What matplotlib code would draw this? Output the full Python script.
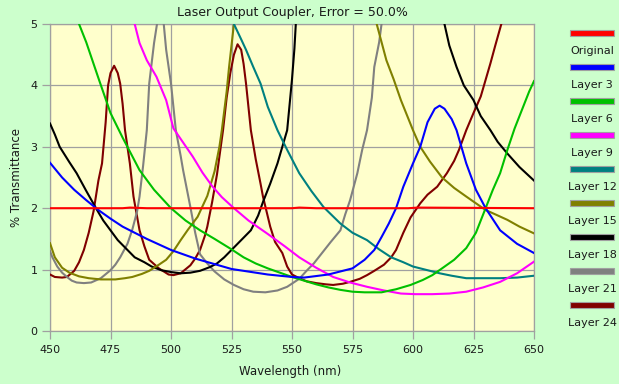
import numpy as np
import matplotlib
matplotlib.use("Agg")
import matplotlib.pyplot as plt
from matplotlib.patches import Rectangle

# wavelength (nm) / % transmittance
wl_original = [450, 480, 483, 490, 550, 553, 560, 598, 602, 650]
t_original = [2.0, 2.0, 2.01, 2.0, 2.0, 2.01, 2.0, 2.0, 2.01, 2.0]

wl_l3 = [450, 455, 460, 465, 470, 475, 480, 490, 500, 510, 525, 540, 550, 555, 565, 575,
         580, 584, 587, 590, 593, 596, 600, 603, 606, 609, 611, 613, 616, 618, 622, 626,
         630, 636, 643, 650]
t_l3 = [2.74, 2.5, 2.3, 2.13, 1.97, 1.83, 1.70, 1.50, 1.32, 1.18, 1.01, 0.92, 0.88, 0.87,
        0.92, 1.02, 1.16, 1.32, 1.53, 1.75, 2.0, 2.35, 2.73, 3.0, 3.4, 3.62, 3.67, 3.62,
        3.45, 3.27, 2.73, 2.3, 2.0, 1.64, 1.42, 1.27]

wl_l6 = [460, 462, 465, 470, 475, 480, 487, 493, 500, 506, 512, 518, 525, 530, 535, 540,
         545, 550, 555, 560, 565, 570, 575, 580, 587, 593, 599, 604, 608, 612, 617, 622,
         626, 630, 633, 636, 639, 642, 645, 648, 650]
t_l6 = [5.4, 5.0, 4.7, 4.12, 3.55, 3.15, 2.62, 2.3, 2.0, 1.8, 1.64, 1.5, 1.33, 1.2, 1.1,
        1.02, 0.95, 0.88, 0.82, 0.76, 0.71, 0.67, 0.64, 0.63, 0.63, 0.68, 0.75, 0.83, 0.91,
        1.02, 1.16, 1.35, 1.6, 2.0, 2.3, 2.57, 2.95, 3.3, 3.6, 3.9, 4.07]

wl_l9 = [484, 485, 487, 490, 494, 498, 501, 505, 509, 513, 517, 521, 526, 532, 540, 547,
         553, 560, 567, 574, 581, 588, 595, 601, 608, 615, 622, 629, 636, 643, 650]
t_l9 = [5.2, 5.0, 4.69, 4.41, 4.14, 3.76, 3.3, 3.07, 2.84, 2.58, 2.36, 2.18, 2.0, 1.8,
        1.58, 1.38, 1.2, 1.03, 0.88, 0.79, 0.72, 0.66, 0.61, 0.6, 0.6, 0.61, 0.64, 0.71,
        0.8, 0.94, 1.13]

wl_l12 = [525, 526, 529, 531, 534, 537, 540, 544, 548, 553, 558, 563, 570, 575, 581, 586,
          591, 596, 600, 606, 611, 616, 622, 630, 636, 643, 650]
t_l12 = [5.2, 5.0, 4.75, 4.58, 4.3, 4.03, 3.65, 3.27, 2.95, 2.57, 2.28, 2.02, 1.75, 1.6,
         1.48, 1.33, 1.2, 1.12, 1.05, 0.99, 0.94, 0.9, 0.86, 0.86, 0.86, 0.87, 0.9]

wl_l15 = [450, 452, 455, 458, 462, 466, 471, 477, 481, 484, 488, 491, 495, 498, 501, 504,
          507, 511, 515, 518, 520, 521, 523, 524, 526, 527, 584, 585, 589, 592, 595, 600,
          603, 607, 612, 617, 622, 626, 630, 634, 639, 644, 650]
t_l15 = [1.43, 1.2, 1.03, 0.95, 0.89, 0.86, 0.84, 0.84, 0.86, 0.88, 0.93, 0.98, 1.08,
         1.16, 1.3, 1.48, 1.65, 1.86, 2.2, 2.6, 3.0, 3.27, 3.9, 4.3, 5.0, 5.6, 5.6, 5.0,
         4.41, 4.1, 3.76, 3.27, 3.0, 2.76, 2.5, 2.33, 2.19, 2.08, 1.97, 1.9, 1.81, 1.7, 1.59]

wl_l18 = [450, 452, 454, 458, 461, 465, 469, 472, 475, 478, 482, 485, 489, 492, 496, 500,
          504, 508, 512, 516, 519, 522, 525, 529, 533, 536, 538, 541, 544, 546, 548, 550,
          551, 552, 612, 613, 615, 618, 621, 625, 628, 632, 635, 639, 644, 650]
t_l18 = [3.38, 3.2, 3.0, 2.75, 2.57, 2.28, 2.0, 1.8, 1.64, 1.48, 1.32, 1.2, 1.12, 1.05,
         0.99, 0.96, 0.94, 0.95, 0.98, 1.04, 1.1, 1.2, 1.32, 1.48, 1.64, 1.88, 2.1, 2.4,
         2.73, 3.0, 3.27, 4.1, 4.6, 5.3, 5.3, 5.0, 4.65, 4.3, 4.0, 3.76, 3.5, 3.27, 3.08,
         2.89, 2.67, 2.45]

wl_l21 = [450, 451, 453, 455, 457, 459, 461, 464, 467, 471, 475, 477, 479, 482, 484, 486,
          487, 488.5, 490, 491, 493, 495, 497, 498, 500, 502, 504, 505, 508, 510, 512, 515,
          518, 522, 526, 530, 534, 539, 544, 548, 553, 556, 559, 562, 566, 570, 572, 574,
          577, 579, 581, 583, 584, 586, 587, 588]
t_l21 = [1.3, 1.2, 1.05, 0.95, 0.88, 0.82, 0.79, 0.78, 0.79, 0.86, 0.99, 1.08, 1.2, 1.42,
         1.65, 1.95, 2.19, 2.7, 3.27, 4.03, 4.69, 5.2, 5.0, 4.58, 4.03, 3.27, 2.85, 2.62,
         2.02, 1.6, 1.25, 1.1, 0.97, 0.84, 0.75, 0.68, 0.64, 0.63, 0.66, 0.72, 0.85, 0.98,
         1.1, 1.25, 1.45, 1.64, 1.9, 2.13, 2.57, 2.95, 3.27, 3.8, 4.3, 4.7, 5.0, 5.4]

wl_l24 = [450, 452, 455, 457, 460, 462, 464, 466, 468, 470, 471.5, 473, 474, 475, 476.5,
          478, 479, 480, 481, 483, 484.5, 487, 489, 491, 495, 499, 501, 504, 508, 510, 512,
          514, 515, 517, 519, 520, 521.5, 523, 524.5, 526, 527.5, 529, 530, 531, 533, 535,
          537, 538, 541, 543, 546, 548, 550, 553, 556, 560, 564, 567, 571, 574, 578, 581,
          584, 588, 591, 593, 596, 599, 603, 606, 610, 614, 617, 619, 622, 625, 628, 632,
          634, 636.5, 638]
t_l24 = [0.92, 0.88, 0.87, 0.88, 0.98, 1.12, 1.32, 1.6, 1.95, 2.45, 2.73, 3.4, 4.0, 4.2,
         4.32, 4.2, 4.03, 3.7, 3.27, 2.73, 2.19, 1.64, 1.38, 1.16, 1.02, 0.92, 0.91, 0.94,
         1.07, 1.18, 1.32, 1.55, 1.7, 2.1, 2.55, 2.84, 3.27, 3.8, 4.2, 4.5, 4.67, 4.58,
         4.35, 4.03, 3.27, 2.8, 2.4, 2.19, 1.7, 1.45, 1.27, 1.05, 0.92, 0.86, 0.81, 0.78,
         0.76, 0.75, 0.77, 0.8, 0.85, 0.91, 0.98, 1.08, 1.2, 1.32, 1.6, 1.85, 2.08, 2.22,
         2.35, 2.57, 2.77, 2.95, 3.27, 3.55, 3.82, 4.36, 4.65, 5.0, 5.3]

labels = ["Original", "Layer 3", "Layer 6", "Layer 9", "Layer 12", "Layer 15",
          "Layer 18", "Layer 21", "Layer 24"]
colors = ["#FF0000", "#0000FF", "#00C000", "#FF00FF", "#008080", "#808000",
          "#000000", "#808080", "#800000"]
series = [(wl_original, t_original), (wl_l3, t_l3), (wl_l6, t_l6), (wl_l9, t_l9),
          (wl_l12, t_l12), (wl_l15, t_l15), (wl_l18, t_l18), (wl_l21, t_l21),
          (wl_l24, t_l24)]

x_ticks = [450, 475, 500, 525, 550, 575, 600, 625, 650]
y_ticks = [0, 1, 2, 3, 4, 5]

plt.rcParams["font.family"] = "DejaVu Sans"
text_col = "#1a1a1a"
grid_col = "#A0A0A0"

W, H = 619, 384
fig = plt.figure(figsize=(W / 100, H / 100), dpi=100, facecolor="#CCFFCC")
ax = fig.add_axes([50 / W, 1 - 331 / H, 484 / W, 307 / H], facecolor="#FFFFCC")

# draw in reverse so Original sits on top like the reference
for (wl, t), c in reversed(list(zip(series, colors))):
    ax.plot(wl, t, color=c, linewidth=1.5, zorder=3)

ax.set_xlim(450, 650)
ax.set_ylim(0, 5)
ax.set_xticks(x_ticks)
ax.set_yticks(y_ticks)
ax.grid(True, color=grid_col, linewidth=0.9, zorder=0)
ax.set_axisbelow(True)
for s in ax.spines.values():
    s.set_color(grid_col)
    s.set_linewidth(0.9)
ax.tick_params(axis="both", direction="out", length=6, width=0.9, color=grid_col,
               labelsize=8, labelcolor=text_col)
ax.tick_params(axis="x", pad=4)
ax.tick_params(axis="y", pad=3)

ax.set_xlabel("Wavelength (nm)", fontsize=8.5, color=text_col)
ax.xaxis.set_label_coords(0.497, -0.112)
ax.set_ylabel("% Transmittance", fontsize=8.5, color=text_col)
ax.yaxis.set_label_coords(-0.055, 0.5)
ax.text(0.5, 1.036, "Laser Output Coupler, Error = 50.0%", transform=ax.transAxes,
        ha="center", va="center", fontsize=9, color=text_col)

# legend: swatch above each label, at the right of the plot
for i, (lab, c) in enumerate(zip(labels, colors)):
    ys = 33.3 + 34 * i
    yl = 51 + 34 * i
    fig.add_artist(Rectangle((570 / W, 1 - (ys + 3) / H), 44 / W, 6 / H,
                             transform=fig.transFigure, facecolor=c,
                             edgecolor="#A0A0A0", linewidth=0.8))
    fig.text(592 / W, 1 - yl / H, lab, ha="center", va="center", fontsize=8,
             color=text_col)

fig.savefig("out.png", dpi=100, facecolor=fig.get_facecolor())
